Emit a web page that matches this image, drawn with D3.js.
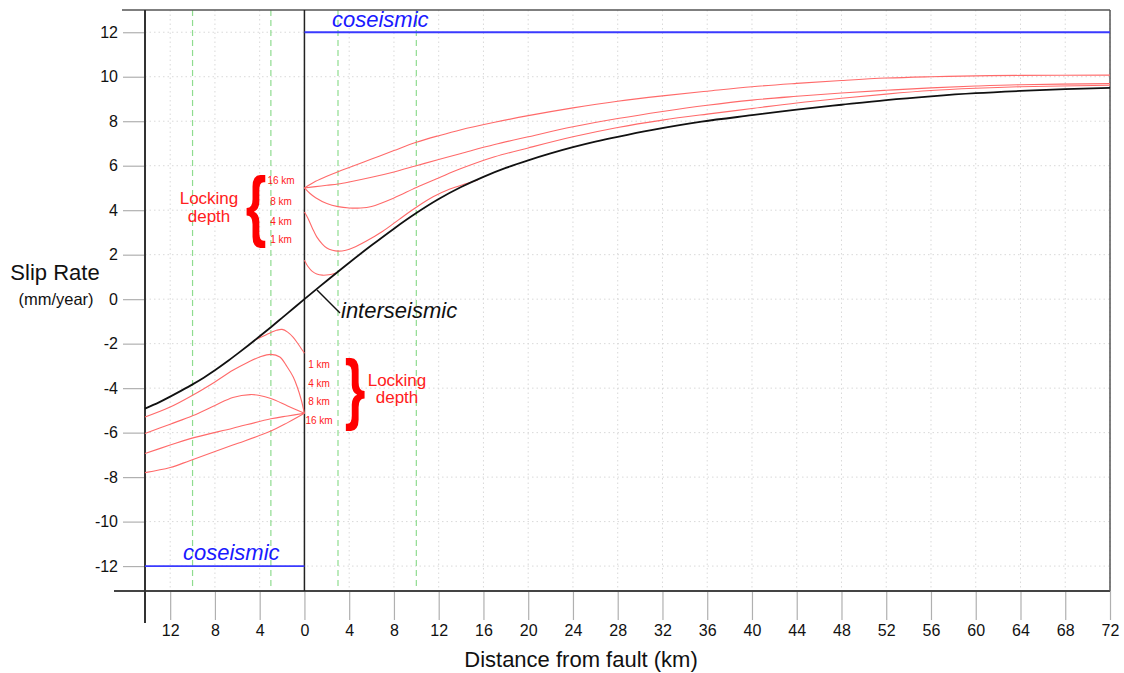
<!DOCTYPE html>
<html><head><meta charset="utf-8">
<script src="https://cdn.jsdelivr.net/npm/d3@7"></script>
<style>
html,body{margin:0;padding:0;background:#fff;}
svg{display:block;font-family:"Liberation Sans",Arial,sans-serif;}
</style></head>
<body>
<svg id="chart" width="1124" height="673"></svg>
<script>
// ---------- data ----------
const xTickValues = [-12,-8,-4,0,4,8,12,16,20,24,28,32,36,40,44,48,52,56,60,64,68,72];
const yTickValues = [-12,-10,-8,-6,-4,-2,0,2,4,6,8,10,12];
const guideX = [-10,-3,3,10];

// interseismic (black)
const interX = [-14.25,-13,-12,-11,-10,-9,-8,-7,-6,-5,-4,-3,-2,-1,0,2,4,6,8,10,12,14,16,18,20,22,24,26,28,31,35.5,40,44,48,52,56,60,64,68,72];
const interY = [-4.92,-4.64,-4.38,-4.11,-3.83,-3.53,-3.2,-2.84,-2.46,-2.07,-1.67,-1.26,-0.84,-0.42,0,0.83,1.64,2.42,3.17,3.87,4.5,5.04,5.5,5.9,6.24,6.55,6.83,7.08,7.3,7.6,7.98,8.27,8.52,8.74,8.95,9.12,9.26,9.36,9.44,9.5];

// postseismic, right side (x >= 0)
const r16X = [0,1,2,3,4,6,8,10,12,14,17,20,24,28,32,36,40,44,48,52,56,60,64,72];
const r16Y = [5.0,5.3,5.53,5.73,5.92,6.3,6.68,7.05,7.35,7.62,7.95,8.25,8.6,8.9,9.14,9.35,9.55,9.7,9.83,9.94,10.0,10.04,10.06,10.07];
const r8X  = [0,1,2,3,4,6,8,10,12,14,17,20,24,28,32,36,40,44,48,52,56,60,64,72];
const r8Y  = [5.0,5.06,5.12,5.18,5.27,5.48,5.72,6.0,6.28,6.55,6.95,7.3,7.75,8.12,8.44,8.72,8.95,9.12,9.27,9.39,9.5,9.58,9.64,9.69];
const r4X  = [0,0.5,1,2,3,4,5,6,8,10,12,14,17,20,24,28,32,36,40,44,48,52,56,60,64,72];
const r4Y  = [5.0,4.75,4.56,4.3,4.16,4.1,4.1,4.17,4.55,5.02,5.45,5.87,6.4,6.8,7.3,7.72,8.05,8.32,8.57,8.82,9.03,9.22,9.38,9.48,9.55,9.62];
const r1X  = [0,0.3,0.7,1.1,1.6,2,2.5,3,3.7,4.4,5.5,7,8.5,10,11.5,13,14.5,15.5];
const r1Y  = [3.92,3.65,3.2,2.8,2.48,2.3,2.2,2.16,2.2,2.32,2.6,3.05,3.6,4.13,4.6,4.95,5.2,5.36];
const r0X  = [0,0.3,0.7,1.1,1.6,2.2,2.8];
const r0Y  = [1.75,1.48,1.25,1.13,1.08,1.1,1.18];

// postseismic, left side (x <= 0)
const lAX = [-4.4,-3.5,-3,-2.5,-2,-1.5,-1,-0.5,0];
const lAY = [-1.83,-1.62,-1.5,-1.4,-1.36,-1.48,-1.72,-2.06,-2.43];
const lBX = [-14.25,-12,-10,-8,-6.4,-5,-4,-3,-2.2,-1.55,-1,-0.65,-0.3,0];
const lBY = [-5.3,-4.85,-4.32,-3.72,-3.2,-2.82,-2.6,-2.48,-2.6,-3.04,-3.5,-3.94,-4.5,-5.13];
const lCX = [-14.25,-12,-10,-8,-6.4,-4.84,-4,-3,-1.5,0];
const lCY = [-6.04,-5.62,-5.24,-4.78,-4.42,-4.29,-4.33,-4.47,-4.8,-5.13];
const lDX = [-14.25,-12,-10.2,-6.4,-3,-1.5,0];
const lDY = [-6.94,-6.56,-6.27,-5.8,-5.38,-5.25,-5.13];
const lEX = [-14.25,-12,-10.2,-6.4,-3,-1.5,0];
const lEY = [-7.8,-7.57,-7.25,-6.56,-5.93,-5.55,-5.13];

const coseismicRight = [[0,12],[72,12]];
const coseismicLeft = [[-14.25,-12],[0,-12]];
const leftDepthLabels = ["16 km","8 km","4 km","1 km"];
const rightDepthLabels = ["1 km","4 km","8 km","16 km"];

// ---------- scales ----------
const svg = d3.select("#chart");
const x = d3.scaleLinear().domain([-14.25,72]).range([145,1110]);
const y = d3.scaleLinear().domain([-13.12,13]).range([591,10]);
const X0 = x(-14.25), X1 = x(72), Y0 = y(-13.12), Y1 = y(13);

// grid
const grid = svg.append("g");
grid.selectAll(".gy").data(yTickValues).join("line")
  .attr("x1",X0).attr("x2",X1).attr("y1",d=>y(d)).attr("y2",d=>y(d))
  .attr("stroke","#d9d9d9").attr("stroke-width",1).attr("stroke-dasharray","1.5,3");
grid.selectAll(".gx").data(xTickValues).join("line")
  .attr("x1",d=>x(d)).attr("x2",d=>x(d)).attr("y1",Y1).attr("y2",Y0)
  .attr("stroke","#d9d9d9").attr("stroke-width",1).attr("stroke-dasharray","1.5,3");

// green dashed guides
svg.append("g").selectAll("line").data(guideX).join("line")
  .attr("x1",d=>x(d)).attr("x2",d=>x(d)).attr("y1",Y1).attr("y2",Y0)
  .attr("stroke","#8fdc8f").attr("stroke-width",1.2).attr("stroke-dasharray","6,4");

// axes
const font = "Liberation Sans, Arial, sans-serif";
const xAxis = d3.axisBottom(x).tickValues(xTickValues).tickFormat(d=>String(Math.abs(d))).tickSize(29).tickPadding(5);
const gx = svg.append("g").attr("transform",`translate(0,${Y0})`).call(xAxis);
gx.select(".domain").remove();
gx.selectAll(".tick line").attr("stroke","#b0b0b0").attr("stroke-width",1.2);
gx.selectAll(".tick text").attr("font-size",16).attr("fill","#111").attr("font-family",font);

const yAxis = d3.axisLeft(y).tickValues(yTickValues).tickFormat(d=>String(d)).tickSize(22).tickPadding(5);
const gy = svg.append("g").attr("transform",`translate(${X0},0)`).call(yAxis);
gy.select(".domain").remove();
gy.selectAll(".tick line").attr("stroke","#b0b0b0").attr("stroke-width",1.2);
gy.selectAll(".tick text").attr("font-size",16).attr("fill","#111").attr("font-family",font);

// frame lines
svg.append("line").attr("x1",X0-23).attr("x2",X1).attr("y1",Y1).attr("y2",Y1).attr("stroke","#555").attr("stroke-width",1.5);
svg.append("line").attr("x1",X0-31).attr("x2",X1).attr("y1",Y0).attr("y2",Y0).attr("stroke","#444").attr("stroke-width",2);
svg.append("line").attr("x1",X0).attr("x2",X0).attr("y1",Y1).attr("y2",Y0+32).attr("stroke","#333").attr("stroke-width",2);
svg.append("line").attr("x1",X1).attr("x2",X1).attr("y1",Y1).attr("y2",Y0).attr("stroke","#555").attr("stroke-width",1.5);
// fault
svg.append("line").attr("x1",x(0)).attr("x2",x(0)).attr("y1",Y1).attr("y2",Y0).attr("stroke","#222").attr("stroke-width",1.5);

// coseismic
const lineFn = d3.line().x(d=>x(d[0])).y(d=>y(d[1]));
[coseismicRight, coseismicLeft].forEach(c=>{
  svg.append("path").attr("d",lineFn(c)).attr("fill","none").attr("stroke","#3a3aff").attr("stroke-width",1.8);
});

// curves
const curveFn = d3.line().x(d=>x(d[0])).y(d=>y(d[1])).curve(d3.curveCatmullRom.alpha(0.5));
const zip = (a,b)=>a.map((v,i)=>[v,b[i]]);
const reds = [[r16X,r16Y],[r8X,r8Y],[r4X,r4Y],[r1X,r1Y],[r0X,r0Y],[lAX,lAY],[lBX,lBY],[lCX,lCY],[lDX,lDY],[lEX,lEY]];
svg.append("g").selectAll("path").data(reds).join("path")
  .attr("d",d=>curveFn(zip(d[0],d[1])))
  .attr("fill","none").attr("stroke","#ff6a6a").attr("stroke-width",1.1);
svg.append("path").attr("d",curveFn(zip(interX,interY)))
  .attr("fill","none").attr("stroke","#111").attr("stroke-width",1.8);

// texts
function txt(s,xx,yy,opts){
  const t = svg.append("text").attr("x",xx).attr("y",yy).text(s).attr("font-family",font);
  Object.entries(opts||{}).forEach(([k,v])=>t.attr(k,v));
  return t;
}
txt("coseismic",332,27,{"font-size":22,"font-style":"italic",fill:"#1a1aff"});
txt("coseismic",183,560,{"font-size":22,"font-style":"italic",fill:"#1a1aff"});
txt("interseismic",341,318,{"font-size":22,"font-style":"italic",fill:"#111"});
svg.append("line").attr("x1",317).attr("y1",290).attr("x2",340).attr("y2",313).attr("stroke","#111").attr("stroke-width",1.5);

txt("Slip Rate",55,280,{"font-size":22,"text-anchor":"middle",fill:"#111"});
txt("(mm/year)",56,305,{"font-size":16.5,"text-anchor":"middle",fill:"#111"});
txt("Distance from fault (km)",581,667,{"font-size":22,"text-anchor":"middle",fill:"#111"});

// locking depth labels (two lines each)
function twoLine(l1,l2,xx,yy){
  const t = svg.append("text").attr("x",xx).attr("y",yy).attr("font-family",font)
    .attr("font-size",17).attr("text-anchor","middle").attr("fill","#ff2020");
  t.append("tspan").attr("x",xx).attr("dy",0).text(l1);
  t.append("tspan").attr("x",xx).attr("dy",17.5).text(l2);
}
twoLine("Locking","depth",209,204);
twoLine("Locking","depth",397,385.5);

const leftBase = [184,205,225,243];
leftDepthLabels.forEach((s,i)=>txt(s,281,leftBase[i],{"font-size":10,"text-anchor":"middle",fill:"#ff2020"}));
const rightBase = [368,387,405,424];
rightDepthLabels.forEach((s,i)=>txt(s,319,rightBase[i],{"font-size":10,"text-anchor":"middle",fill:"#ff2020"}));

svg.append("text").text("{").attr("font-family",font).attr("font-weight","bold").attr("font-size",78)
  .attr("fill","red").attr("text-anchor","middle")
  .attr("transform","translate(256,232) scale(0.68,1)");
svg.append("text").text("}").attr("font-family",font).attr("font-weight","bold").attr("font-size",78)
  .attr("fill","red").attr("text-anchor","middle")
  .attr("transform","translate(355,415) scale(0.68,1)");
</script>
</body></html>
